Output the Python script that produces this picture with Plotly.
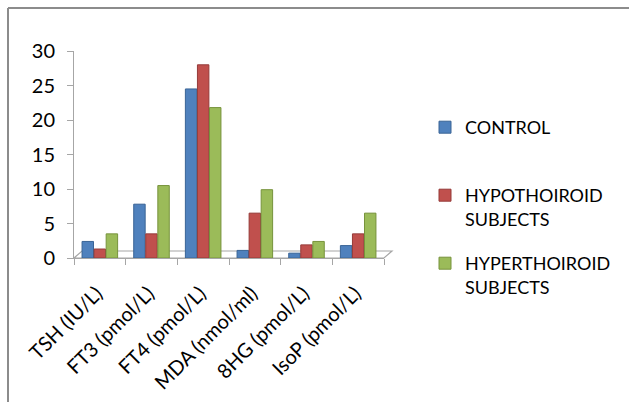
import plotly.graph_objects as go

# Biochemical markers and group means
categories = ["TSH (IU/L)", "FT3 (pmol/L)", "FT4 (pmol/L)", "MDA (nmol/ml)", "8HG (pmol/L)", "IsoP (pmol/L)"]
control = [2.4, 7.8, 24.5, 1.1, 0.7, 1.8]
hypothyroid = [1.3, 3.5, 28.0, 6.5, 1.9, 3.5]
hyperthyroid = [3.5, 10.5, 21.8, 9.9, 2.4, 6.5]
y_ticks = [0, 5, 10, 15, 20, 25, 30]

series_names = ["CONTROL", "HYPOTHOIROID<br>SUBJECTS", "HYPERTHOIROID<br>SUBJECTS"]
series_values = [control, hypothyroid, hyperthyroid]
colors = ["#4F81BD", "#C0504D", "#9BBB59"]
edge_colors = ["#3A6496", "#953B39", "#77933C"]
legend_ids = ["legend", "legend2", "legend3"]

W, H = 629, 402
ML, MR, MT, MB = 74, 245, 51, 144
PW, PH = W - ML - MR, H - MT - MB

FONT = "Lato"

fig = go.Figure()
for name, vals, col, edge, lg in zip(series_names, series_values, colors, edge_colors, legend_ids):
    fig.add_trace(go.Bar(
        x=categories, y=vals, name=name,
        marker=dict(color=col, line=dict(color=edge, width=1)),
        legend=lg,
    ))


def px_to_paper_x(px):
    return (px - ML) / PW


def px_to_paper_y(py):
    return (H - MB - py) / PH


# Floor of the pseudo-3D plot
dx, dy = 8, 7
x0, x1 = px_to_paper_x(ML), px_to_paper_x(ML + PW)
y0 = px_to_paper_y(H - MB)
xo, yo = dx / PW, dy / PH
floor_path = (f"M{x0},{y0} L{x1},{y0} L{x1 + xo},{y0 + yo} "
              f"L{x0 + xo},{y0 + yo} Z")

shapes = [
    dict(type="path", path=floor_path, xref="paper", yref="paper",
         line=dict(color="#A6A6A6", width=1.2), fillcolor="rgba(0,0,0,0)", layer="below"),
    # outer frame (top and left edges)
    dict(type="line", xref="paper", yref="paper",
         x0=px_to_paper_x(8), x1=px_to_paper_x(W + 5),
         y0=px_to_paper_y(8), y1=px_to_paper_y(8),
         line=dict(color="#8C8C8C", width=2)),
    dict(type="line", xref="paper", yref="paper",
         x0=px_to_paper_x(8), x1=px_to_paper_x(8),
         y0=px_to_paper_y(8), y1=px_to_paper_y(H + 5),
         line=dict(color="#8C8C8C", width=2)),
]

legend_style = dict(
    xref="container", yref="container", xanchor="left", yanchor="top",
    font=dict(family=FONT, size=18, color="#000000"),
    bgcolor="rgba(0,0,0,0)", valign="top", itemwidth=30,
)
legend_tops = [109, 177, 245]
legend_left = 425

layout_legends = {}
for lg, top in zip(legend_ids, legend_tops):
    layout_legends[lg] = dict(legend_style, x=legend_left / W, y=1 - top / H)

fig.update_layout(
    width=W, height=H,
    margin=dict(l=ML, r=MR, t=MT, b=MB, autoexpand=False),
    paper_bgcolor="white", plot_bgcolor="rgba(0,0,0,0)",
    barmode="group", bargap=0.3, bargroupgap=0.05,
    font=dict(family=FONT, size=18, color="#000000"),
    showlegend=True,
    shapes=shapes,
    xaxis=dict(
        type="category", tickangle=-45, tickson="boundaries",
        ticks="outside", ticklen=6, tickcolor="#A6A6A6",
        showline=True, linecolor="#A6A6A6", linewidth=1,
        showgrid=False, zeroline=False,
        ticklabelstandoff=15, ticklabelshift=-3,
        tickfont=dict(family=FONT, size=20, color="#000000"),
    ),
    yaxis=dict(
        range=[0, 30], tickvals=y_ticks,
        ticks="outside", ticklen=6, tickcolor="#A6A6A6",
        showline=True, linecolor="#A6A6A6", linewidth=1,
        showgrid=False, zeroline=False, ticklabelstandoff=8,
        tickfont=dict(family=FONT, size=20, color="#000000"),
    ),
    **layout_legends,
)

fig.write_html("out.html")
